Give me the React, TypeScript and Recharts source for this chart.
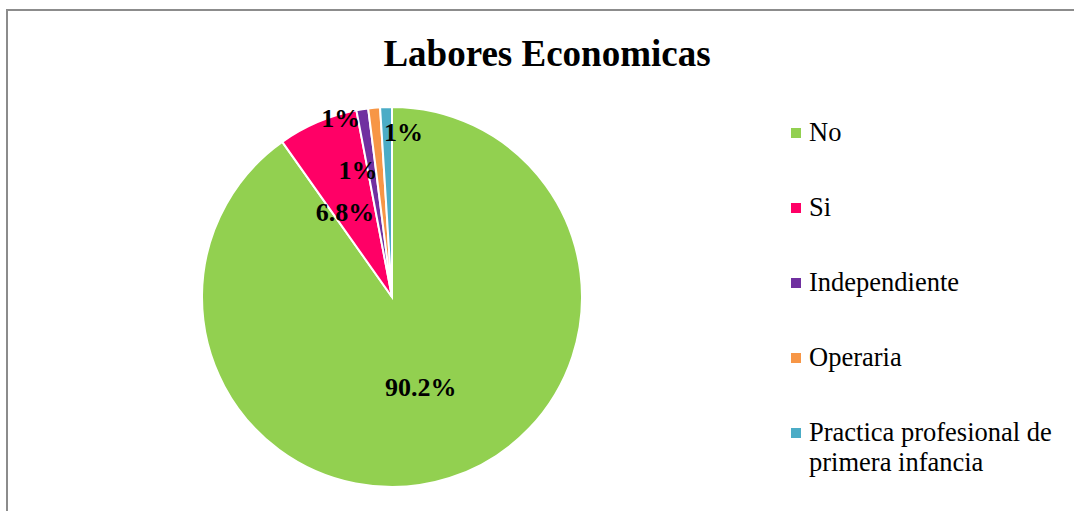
import React from 'react';
import { PieChart, Pie, Cell } from 'recharts';

const categories = ['No', 'Si', 'Independiente', 'Operaria', 'Practica profesional de primera infancia'];
const values = [90.2, 6.8, 1, 1, 1];
const colors = ['#92D050', '#FF0066', '#7030A0', '#F79646', '#4BACC6'];

// [radius factor, angle offset in degrees] for each data label
const labelPos = [[0.5, 0], [0.51, 6], [0.98, 7], [0.69, 9.6], [0.87, -5.8]];

const data = categories.map((name, i) => ({ name, value: values[i] }));

const FONT = "'Liberation Serif', 'Times New Roman', Times, serif";
const RAD = Math.PI / 180;

const renderLabel = (props: any) => {
  const { cx, cy, midAngle, outerRadius, index, value } = props;
  const [f, off] = labelPos[index];
  const a = (midAngle + off) * RAD;
  const r = outerRadius * f;
  const x = cx + r * Math.cos(-a);
  const y = cy + r * Math.sin(-a);
  return (
    <text x={x} y={y} textAnchor="middle" dominantBaseline="central"
      style={{ fontFamily: FONT, fontWeight: 'bold', fontSize: 26 }} fill="#000">
      {`${value}%`}
    </text>
  );
};

export default function App() {
  return (
    <div style={{ position: 'absolute', left: 0, top: 0, width: 1074, height: 511, overflow: 'hidden', background: '#fff' }}>
      <div style={{ position: 'absolute', left: 6, top: 9, width: 1100, height: 600, border: '2px solid #8c8c8c' }} />
      <div style={{ position: 'absolute', left: 0, width: 1094, top: 29, textAlign: 'center', fontFamily: FONT, fontWeight: 'bold', fontSize: 37, lineHeight: '50px' }}>
        Labores Economicas
      </div>
      <div style={{ position: 'absolute', left: 0, top: 0 }}>
        <PieChart width={1074} height={511} margin={{ top: 0, right: 0, bottom: 0, left: 0 }}>
          <Pie data={data} dataKey="value" nameKey="name" cx={392} cy={297} outerRadius={190}
            startAngle={90} endAngle={-270} stroke="#fff" strokeWidth={2}
            label={renderLabel} labelLine={false} isAnimationActive={false}>
            {data.map((d, i) => <Cell key={d.name} fill={colors[i]} />)}
          </Pie>
        </PieChart>
      </div>
      <div style={{ position: 'absolute', left: 791, top: 117, width: 283, fontFamily: FONT, fontSize: 26.5, color: '#000' }}>
        {data.map((d, i) => (
          <div key={d.name} style={{ position: 'relative', height: 75 }}>
            <span style={{ position: 'absolute', left: 0, top: 11, width: 10, height: 10, background: colors[i] }} />
            <span style={{ position: 'absolute', left: 18, top: 0, lineHeight: '30px', width: 265 }}>{d.name}</span>
          </div>
        ))}
      </div>
    </div>
  );
}
